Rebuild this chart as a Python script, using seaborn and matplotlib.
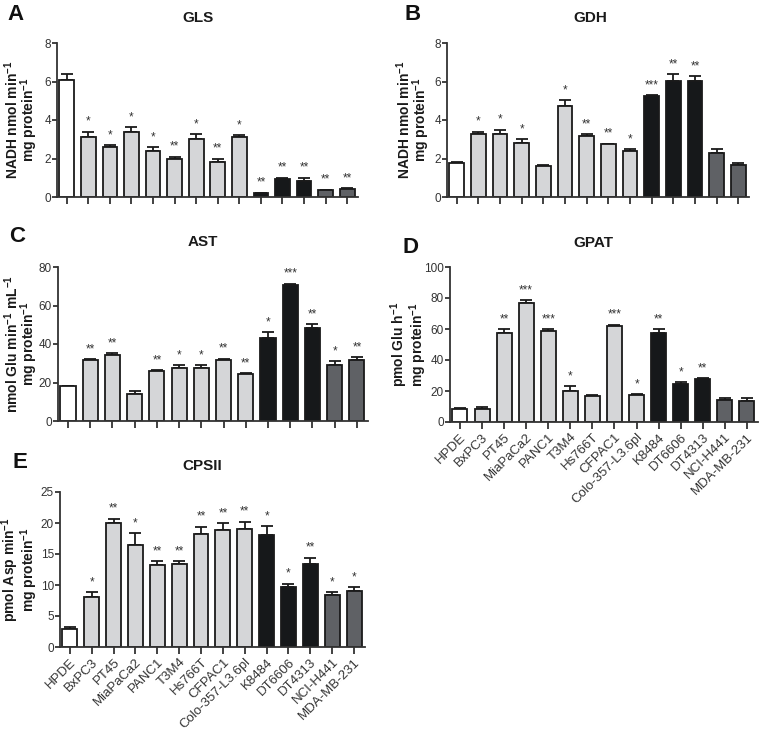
import matplotlib
matplotlib.use("Agg")
import matplotlib.pyplot as plt
import seaborn as sns
import numpy as np
import pandas as pd

sns.set_theme(style="ticks")
plt.rcParams['font.family'] = ['Liberation Sans', 'DejaVu Sans']
plt.rcParams['mathtext.fontset'] = 'custom'
plt.rcParams['mathtext.rm'] = 'Liberation Sans'
plt.rcParams['mathtext.bf'] = 'Liberation Sans:bold'

cell_lines = ["HPDE", "BxPC3", "PT45", "MiaPaCa2", "PANC1", "T3M4", "Hs766T",
              "CFPAC1", "Colo-357-L3.6pl", "K8484", "DT6606", "DT4313",
              "NCI-H441", "MDA-MB-231"]
groups = ["normal", "human", "human", "human", "human", "human", "human",
          "human", "human", "mouse", "mouse", "mouse", "other", "other"]
group_colors = {"normal": "#ffffff", "human": "#d4d6d9",
                "mouse": "#16181a", "other": "#5e6166"}

gls_mean = [6.1, 3.1, 2.6, 3.4, 2.4, 1.97, 3.0, 1.8, 3.1, 0.2, 0.95, 0.82, 0.35, 0.42]
gls_err = [0.3, 0.3, 0.1, 0.22, 0.2, 0.12, 0.25, 0.2, 0.1, 0.03, 0.05, 0.18, 0.03, 0.04]
gls_sig = ["", "*", "*", "*", "*", "**", "*", "**", "*", "**", "**", "**", "**", "**"]

gdh_mean = [1.78, 3.25, 3.28, 2.82, 1.6, 4.72, 3.17, 2.73, 2.38, 5.23, 6.02, 6.02, 2.3, 1.65]
gdh_err = [0.03, 0.15, 0.22, 0.18, 0.05, 0.32, 0.08, 0.04, 0.1, 0.05, 0.35, 0.25, 0.18, 0.1]
gdh_sig = ["", "*", "*", "*", "", "*", "**", "**", "*", "***", "**", "**", "", ""]

ast_mean = [18.0, 31.5, 34.2, 14.2, 26.0, 27.7, 27.6, 31.8, 24.5, 43.0, 70.5, 48.5, 29.0, 31.8]
ast_err = [0.3, 0.7, 1.0, 1.5, 0.5, 1.3, 1.6, 0.6, 0.3, 3.0, 0.8, 1.8, 2.0, 1.2]
ast_sig = ["", "**", "**", "", "**", "*", "*", "**", "**", "*", "***", "**", "*", "**"]

gpat_mean = [8.3, 8.3, 57.2, 77.0, 58.8, 20.3, 16.7, 62.2, 17.2, 57.3, 24.3, 27.5, 14.0, 13.8]
gpat_err = [0.5, 1.2, 2.5, 1.5, 1.0, 2.8, 0.8, 0.6, 0.9, 2.5, 1.6, 0.6, 1.8, 1.8]
gpat_sig = ["", "", "**", "***", "***", "*", "", "***", "*", "**", "*", "**", "", ""]

cps_mean = [2.9, 8.0, 20.0, 16.5, 13.2, 13.4, 18.3, 18.9, 19.1, 18.0, 9.7, 13.4, 8.4, 9.0]
cps_err = [0.3, 0.9, 0.7, 1.9, 0.6, 0.4, 1.1, 1.1, 1.1, 1.5, 0.5, 1.0, 0.4, 0.6]
cps_sig = ["", "*", "**", "*", "**", "**", "**", "**", "**", "*", "*", "**", "*", "*"]

W, H = 764, 731
fig = plt.figure(figsize=(W / 100, H / 100), dpi=100)


def add_ax(left, right, top, bottom):
    return fig.add_axes([left / W, 1 - bottom / H, (right - left) / W, (bottom - top) / H])


panels = [
    dict(box=(57, 358, 43, 197), mean=gls_mean, err=gls_err, sig=gls_sig, ymax=8, step=2,
         ylabel="NADH nmol min$^{\\mathbf{-1}}$\nmg protein$^{\\mathbf{-1}}$", labels=False,
         lab_x=40, title="GLS", tpos=(198, 18), letter="A", lpos=(16, 15)),
    dict(box=(447, 749, 43, 197), mean=gdh_mean, err=gdh_err, sig=gdh_sig, ymax=8, step=2,
         ylabel="NADH nmol min$^{\\mathbf{-1}}$\nmg protein$^{\\mathbf{-1}}$", labels=False,
         lab_x=432, title="GDH", tpos=(590, 18), letter="B", lpos=(413, 15)),
    dict(box=(58, 368, 267, 421), mean=ast_mean, err=ast_err, sig=ast_sig, ymax=80, step=20,
         ylabel="nmol Glu min$^{\\mathbf{-1}}$ mL$^{\\mathbf{-1}}$\nmg protein$^{\\mathbf{-1}}$", labels=False,
         lab_x=40, title="AST", tpos=(203, 242), letter="C", lpos=(17, 237)),
    dict(box=(450, 758, 267, 422), mean=gpat_mean, err=gpat_err, sig=gpat_sig, ymax=100, step=20,
         ylabel="pmol Glu h$^{\\mathbf{-1}}$\nmg protein$^{\\mathbf{-1}}$", labels=True,
         lab_x=429, title="GPAT", tpos=(593, 243), letter="D", lpos=(411, 247)),
    dict(box=(60, 365, 492, 647), mean=cps_mean, err=cps_err, sig=cps_sig, ymax=25, step=5,
         ylabel="pmol Asp min$^{\\mathbf{-1}}$\nmg protein$^{\\mathbf{-1}}$", labels=True,
         lab_x=40, title="CPSII", tpos=(202, 466), letter="E", lpos=(20, 463)),
]

for p in panels:
    ax = add_ax(*p["box"])
    df = pd.DataFrame({"cell": cell_lines, "value": p["mean"], "group": groups})
    sns.barplot(data=df, x="cell", y="value", hue="cell",
                palette=[group_colors[g] for g in groups], order=cell_lines,
                edgecolor="#1a1a1a", linewidth=1.3, width=0.68, errorbar=None,
                legend=False, ax=ax, zorder=2)
    x = np.arange(len(cell_lines))
    mean = np.array(p["mean"])
    err = np.array(p["err"])
    ax.errorbar(x, mean, yerr=[np.zeros_like(err), err], fmt="none",
                ecolor="#1a1a1a", elinewidth=1.3, capsize=4, capthick=1.3, zorder=1)
    off = p["ymax"] * 0.025
    for xi, m, e, s in zip(x, mean, err, p["sig"]):
        if s:
            ax.text(xi, m + e + off, s, ha="center", va="bottom", fontsize=8.5,
                    color="#333333")
    ax.set_xlim(-0.45, 13.5)
    ax.set_ylim(0, p["ymax"])
    ax.set_yticks(np.arange(0, p["ymax"] + 0.001, p["step"]))
    ax.tick_params(axis="y", labelsize=8.5, colors="#333333", width=1.3,
                   length=3.5, direction="out", pad=0.8)
    ax.tick_params(axis="x", colors="#333333", width=1.3, length=5,
                   direction="out", pad=1.5)
    for sp in ["top", "right"]:
        ax.spines[sp].set_visible(False)
    for sp in ["left", "bottom"]:
        ax.spines[sp].set_linewidth(1.3)
        ax.spines[sp].set_color("#333333")
    ax.set_xlabel("")
    ax.set_ylabel(p["ylabel"], fontsize=10, fontweight="bold",
                  color="#1a1a1a", linespacing=0.85)
    left, right = p["box"][0], p["box"][1]
    ax.yaxis.set_label_coords((p["lab_x"] - left) / (right - left), 0.5)
    ax.set_xticks(x)
    if p["labels"]:
        ax.set_xticklabels(cell_lines, rotation=45, ha="right",
                           rotation_mode="anchor", fontsize=9.5, color="#333333")
    else:
        ax.set_xticklabels([])
    fig.text(p["tpos"][0] / W, 1 - p["tpos"][1] / H, p["title"], ha="center",
             va="center", fontsize=11, fontweight="bold", color="#1a1a1a")
    fig.text(p["lpos"][0] / W, 1 - p["lpos"][1] / H, p["letter"], ha="center",
             va="center", fontsize=16, fontweight="bold", color="#111111")

fig.savefig("out.png", dpi=100)
